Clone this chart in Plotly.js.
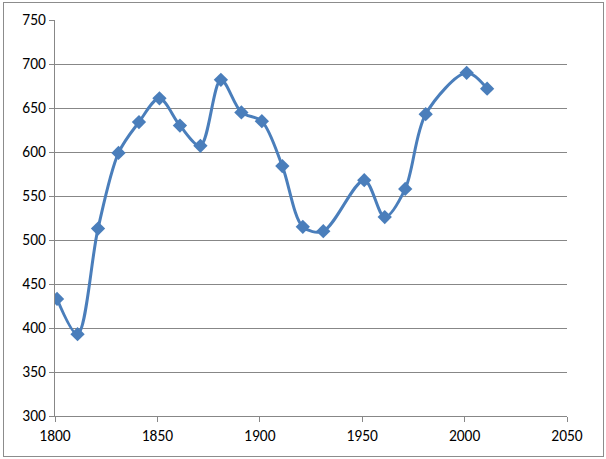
<!DOCTYPE html>
<html><head><meta charset="utf-8">
<script src="https://cdn.plot.ly/plotly-3.0.1.min.js"></script>
<style>
body{margin:0;padding:0;background:#fff;}
#wrap{position:relative;width:606px;height:459px;}
#chart{width:606px;height:459px;}
#frame{position:absolute;left:3px;top:2px;width:599px;height:453px;border:1px solid #8c8c8c;pointer-events:none;}
</style></head>
<body>
<div id="wrap"><div id="chart"></div><div id="frame"></div></div>
<script>
const years = [1801,1811,1821,1831,1841,1851,1861,1871,1881,1891,1901,1911,1921,1931,1951,1961,1971,1981,2001,2011];
const values = [433,393,513,599,634,661,630,607,682,645,635,584,515,510,568,526,558,643,690,672];
const xTicks = [1800,1850,1900,1950,2000,2050];
const yTicks = [300,350,400,450,500,550,600,650,700,750];

const trace = {
  x: years, y: values, type: 'scatter', mode: 'lines+markers',
  line: {color: '#4a7ebb', width: 3, shape: 'spline', smoothing: 0.9},
  marker: {symbol: 'diamond', size: 11, color: '#4a7ebb'},
  hoverinfo: 'none'
};
const font = {family: 'Carlito, "Liberation Sans", Arial, sans-serif', size: 15.5, color: '#000'};
const layout = {
  width: 606, height: 459,
  margin: {l: 55, r: 39, t: 20, b: 43, pad: 0},
  paper_bgcolor: '#fff', plot_bgcolor: '#fff',
  showlegend: false,
  font: font,
  xaxis: {
    range: [1800, 2050], tickvals: xTicks, ticktext: xTicks.map(String),
    showgrid: false, zeroline: false, showline: true, linecolor: '#878787', linewidth: 1,
    ticks: 'outside', ticklen: 5, tickcolor: '#878787', tickfont: font
  },
  yaxis: {
    range: [300, 750], tickvals: yTicks, ticktext: yTicks.map(String),
    showgrid: true, gridcolor: '#878787', gridwidth: 1, zeroline: false,
    showline: true, linecolor: '#878787', linewidth: 1,
    ticks: 'outside', ticklen: 5, tickcolor: '#878787', tickfont: font
  }
};
Plotly.newPlot('chart', [trace], layout, {staticPlot: true, displayModeBar: false});
</script>
</body></html>
